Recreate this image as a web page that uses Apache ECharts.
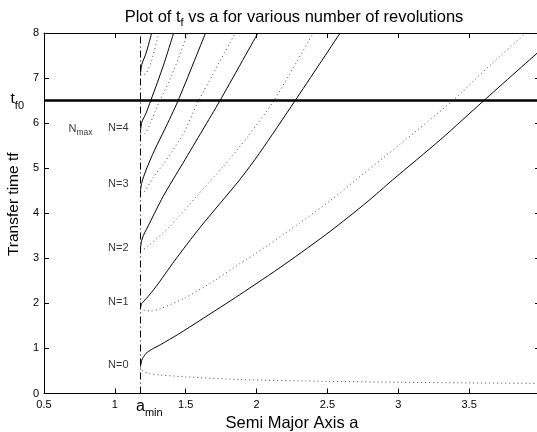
<!DOCTYPE html>
<html><head><meta charset="utf-8">
<script src="https://cdn.jsdelivr.net/npm/echarts@6/dist/echarts.min.js"></script>
<style>html,body{margin:0;padding:0;background:#fff}#c{width:537px;height:432px}</style>
</head><body><div id="c"></div>
<script>
// ---- data ----
const aMin = 1.18;
const tf0 = 6.5;
const n0Solid  = [[1.18,0.59],[1.19,0.74],[1.20,0.80],[1.22,0.89],[1.26,0.98],[1.32,1.08],[1.45,1.32],[1.60,1.62],[1.88,2.19],[2.20,2.87],[2.52,3.60],[2.78,4.25],[2.96,4.74],[3.30,5.64],[3.60,6.49],[4.00,7.61]];
const n0Dotted = [[1.18,0.59],[1.19,0.52],[1.21,0.48],[1.25,0.44],[1.32,0.41],[1.50,0.37],[1.88,0.31],[2.50,0.27],[3.00,0.25],[3.50,0.235],[4.00,0.225]];
const n1Solid  = [[1.18,1.89],[1.19,2.00],[1.22,2.10],[1.29,2.37],[1.42,2.94],[1.60,3.68],[1.88,4.74],[2.02,5.33],[2.27,6.49],[2.59,8.0]];
const n1Dotted = [[1.18,1.89],[1.20,1.85],[1.25,1.83],[1.32,1.88],[1.50,2.13],[1.70,2.50],[1.88,2.88],[2.00,3.12],[2.285,3.74],[2.52,4.28],[2.70,4.74],[3.00,5.50],[3.38,6.49],[3.65,7.29],[3.90,8.0]];
const n2Solid  = [[1.18,3.22],[1.19,3.40],[1.20,3.50],[1.245,3.78],[1.34,4.37],[1.48,5.11],[1.62,5.85],[1.74,6.49],[2.01,8.0]];
const n2Dotted = [[1.18,3.22],[1.20,3.20],[1.245,3.30],[1.386,3.70],[1.575,4.37],[1.763,5.03],[1.94,5.71],[2.12,6.49],[2.40,8.0]];
const n3Solid  = [[1.18,4.48],[1.19,4.68],[1.22,4.96],[1.28,5.40],[1.35,5.85],[1.445,6.49],[1.64,8.0]];
const n3Dotted = [[1.18,4.48],[1.20,4.47],[1.27,4.80],[1.34,5.08],[1.48,5.75],[1.59,6.49],[1.85,8.0]];
const n4Solid  = [[1.18,5.78],[1.19,6.02],[1.22,6.22],[1.252,6.49],[1.30,6.90],[1.35,7.35],[1.415,8.0]];
const n4Dotted = [[1.18,5.78],[1.21,5.77],[1.25,6.00],[1.31,6.45],[1.40,7.05],[1.515,8.0]];
const n5Solid  = [[1.18,7.07],[1.19,7.30],[1.22,7.55],[1.26,8.0]];
const n5Dotted = [[1.18,7.07],[1.22,7.10],[1.26,7.40],[1.31,8.0]];
const nLabels  = ['N=0','N=1','N=2','N=3','N=4'];
const nLabelT  = [0.63,2.04,3.22,4.64,5.89];
const nLabelA  = 1.097;
const nMaxAt   = [0.673,5.87];
const xRange = [0.5, 4];
const yRange = [0, 8];

const FONT = 'Liberation Sans, Arial, Helvetica, sans-serif';
const solid = d => ({type:'line', data:d, showSymbol:false, smooth:0.25, lineStyle:{color:'#000', width:1}, z:3});
const dotted = d => ({type:'line', data:d, showSymbol:false, smooth:0.25, lineStyle:{color:'#444', width:1, type:[1,3]}, z:3});

const axisCommon = {
  type:'value', splitLine:{show:false},
  axisLine:{show:true, onZero:false, lineStyle:{color:'#000', width:1}},
  axisTick:{show:true, inside:true, length:5, lineStyle:{color:'#000'}}
};

const chart = echarts.init(document.getElementById('c'), null, {renderer:'canvas'});
chart.setOption({
  animation:false,
  backgroundColor:'#fff',
  textStyle:{fontFamily:FONT},
  title:{
    text:'{n|Plot of t}{s|f}{n| vs a for various number of revolutions}',
    left:289, top:2, textAlign:'center',
    textStyle:{fontWeight:'normal', rich:{
      n:{fontSize:16.5, fontFamily:FONT, color:'#000', fontWeight:'normal'},
      s:{fontSize:11, fontFamily:FONT, color:'#000', fontWeight:'normal', padding:[10,0,0,0]}
    }}
  },
  grid:{left:44, right:-3, top:33, bottom:38.5, containLabel:false, outerBoundsMode:'none'},
  xAxis:[
    Object.assign({}, axisCommon, {min:xRange[0], max:xRange[1], interval:0.5, position:'bottom',
      name:'Semi Major Axis a', nameLocation:'middle', nameGap:18,
      nameTextStyle:{fontSize:16.5, color:'#000', fontFamily:FONT, verticalAlign:'top'},
      axisLabel:{fontSize:11, color:'#000', margin:6, fontFamily:FONT}}),
    Object.assign({}, axisCommon, {min:xRange[0], max:xRange[1], interval:0.5, position:'top', axisLabel:{show:false}})
  ],
  yAxis:[
    Object.assign({}, axisCommon, {min:yRange[0], max:yRange[1], interval:1, position:'left',
      name:'Transfer time tf', nameLocation:'middle', nameGap:17, nameRotate:90,
      nameTextStyle:{fontSize:15.5, color:'#000', fontFamily:FONT, padding:[0,0,0,18]},
      axisLabel:{fontSize:11, color:'#000', margin:5, fontFamily:FONT}}),
    Object.assign({}, axisCommon, {min:yRange[0], max:yRange[1], interval:1, position:'right', axisLabel:{show:false}})
  ],
  series:[
    solid(n0Solid), dotted(n0Dotted),
    solid(n1Solid), dotted(n1Dotted),
    solid(n2Solid), dotted(n2Dotted),
    solid(n3Solid), dotted(n3Dotted),
    solid(n4Solid), dotted(n4Dotted),
    solid(n5Solid), dotted(n5Dotted),
    {type:'line', data:[], z:4,
      markLine:{silent:true, symbol:['none','none'], animation:false,
        data:[
          {yAxis:tf0, lineStyle:{color:'#000', width:2.6, type:'solid'},
            label:{show:true, position:'start', distance:20,
              formatter:'{t|t}{s|f0}',
              rich:{t:{fontSize:15.5, fontFamily:FONT, color:'#000', padding:[0,0,4,0]},
                    s:{fontSize:11, fontFamily:FONT, color:'#000', padding:[10,0,0,0]}}}},
          {xAxis:aMin, lineStyle:{color:'#000', width:1, type:[7,3,1,3]},
            label:{show:true, position:'start', distance:2,
              formatter:'{t|a}{s|min}',
              rich:{t:{fontSize:16, fontFamily:FONT, color:'#000', padding:[0,0,0,18]},
                    s:{fontSize:11, fontFamily:FONT, color:'#000', padding:[12,0,0,0]}}}}
        ]}
    },
    {type:'scatter', symbolSize:0, z:5, clip:false,
      data: nLabels.map((s,i)=>({value:[nLabelA, nLabelT[i]], name:s})),
      label:{show:true, position:'left', distance:0, formatter:p=>p.name, fontSize:11, color:'#000', fontFamily:FONT}
    },
    {type:'scatter', symbolSize:0, z:5, clip:false,
      data:[{value:nMaxAt, name:'Nmax'}],
      label:{show:true, position:'right', distance:0, formatter:'{n|N}{s|max}',
        rich:{n:{fontSize:11, fontFamily:FONT, color:'#000'}, s:{fontSize:8.5, fontFamily:FONT, color:'#000', padding:[8,0,0,0]}}}
    }
  ]
});
</script></body></html>
